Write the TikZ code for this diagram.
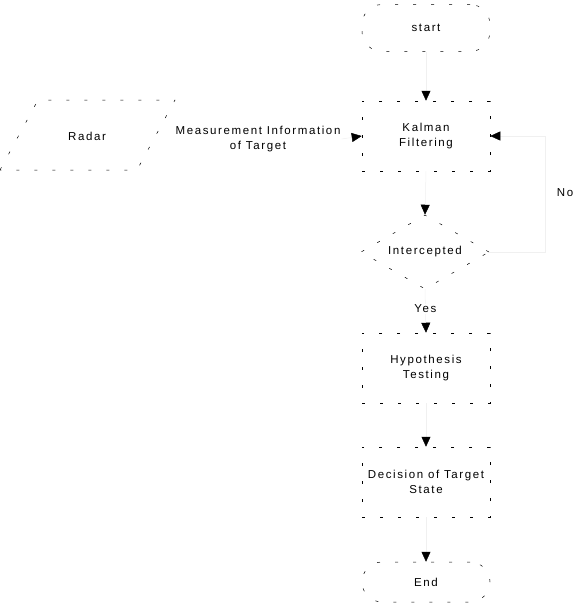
\documentclass[tikz,border=0pt]{standalone}
\usepackage{fontspec}
\setmainfont{Liberation Sans}[LetterSpace=14]
\usetikzlibrary{arrows.meta,shapes.geometric}
\begin{document}
\begin{tikzpicture}[x=1pt,y=1pt,
  shapeline/.style={draw=black,line width=0.5pt,dash pattern=on 3pt off 15pt},
  box/.style={shapeline,rectangle,minimum width=128pt,minimum height=70pt,align=center,inner sep=0pt},
  term/.style={shapeline,rectangle,rounded corners=20pt,minimum width=128pt,align=center,inner sep=0pt},
  txt/.style={align=center,inner sep=1pt},
  conn/.style={draw=black!6,line width=0.5pt,-{Triangle[length=10pt,width=9pt,black]}},
  every node/.append style={font=\fontsize{11.5}{15.5}\selectfont}]
\useasboundingbox (0,0) rectangle (575,-603);
% nodes
\node[term,minimum height=47pt] (start) at (426,-28) {start};
\node[box] (kalman) at (426,-136) {Kalman\\Filtering};
\draw[shapeline] (0,-170) -- (38,-100) -- (175,-100) -- (137,-170) -- cycle;
\node[txt] (radar) at (87,-136) {Radar};
\node[txt] (meas) at (258,-139) {Measurement Information\\of Target};
\node[shapeline,diamond,minimum width=128pt,minimum height=74pt,inner sep=0pt,aspect=1.73] (dia) at (425,-252) {Intercepted};
\node[box] (hyp) at (426,-368) {Hypothesis\\Testing};
\node[box] (dec) at (426,-482) {Decision of Target\\State};
\node[term,minimum height=40pt] (end) at (426,-582) {End};
\coordinate (nr) at (545,-252);
\coordinate (nk) at (545,-136);
% connectors
\draw[conn] (start.south) -- (kalman.north);
\draw[conn] (meas.east) -- (kalman.west);
\draw[conn] (kalman.south) -- (dia.north);
\draw[conn] (dia.south) -- node[txt,fill=white,pos=0.45] (yes) {Yes} (hyp.north);
\draw[conn] (dia.east) -- (nr) -- (nk) -- (kalman.east);
\node[txt] (no) at (565,-193) {No};
\draw[conn] (hyp.south) -- (dec.north);
\draw[conn] (dec.south) -- (end.north);
\end{tikzpicture}
\end{document}
